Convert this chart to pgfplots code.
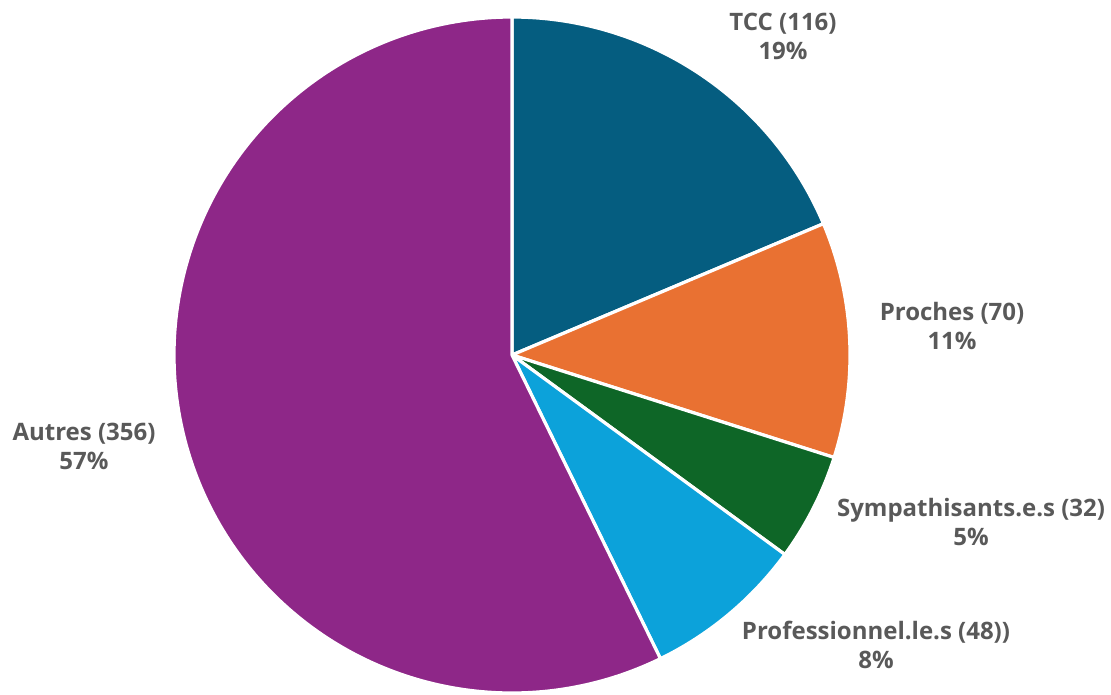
\documentclass[border=0pt]{standalone}
\usepackage{pgfplots}
\pgfplotsset{compat=1.18}
\usepackage{fontspec}
\setmainfont{Open Sans}
\definecolor{cTCC}{HTML}{055D80}
\definecolor{cPro}{HTML}{E97132}
\definecolor{cSym}{HTML}{0E6627}
\definecolor{cPrf}{HTML}{0CA2DA}
\definecolor{cAut}{HTML}{8E2788}
\definecolor{lab}{HTML}{595959}
\def\vA{116}\def\vB{70}\def\vC{32}\def\vD{48}\def\vE{356}
\pgfmathsetmacro\tot{\vA+\vB+\vC+\vD+\vE}
\pgfmathsetmacro\aA{90}
\pgfmathsetmacro\aB{\aA-360*(\vA/\tot)}
\pgfmathsetmacro\aC{\aB-360*(\vB/\tot)}
\pgfmathsetmacro\aD{\aC-360*(\vC/\tot)}
\pgfmathsetmacro\aE{\aD-360*(\vD/\tot)}
\pgfmathsetmacro\aF{\aE-360*(\vE/\tot)}
\begin{document}
\begin{tikzpicture}
\begin{axis}[
  width=555.5pt, height=347pt, scale only axis,
  xmin=0, xmax=1111, ymin=0, ymax=694,
  hide axis, clip=false,
  every axis plot/.append style={draw=white, line width=1.6pt, line join=round, samples=90, variable=\t},
]
\addplot[draw=none, forget plot, line width=0pt] coordinates {(0,0) (1111,694)};
\addplot[fill=cTCC, domain=\aB:\aA] ({512+338*cos(t)},{339+338*sin(t)}) -- (axis cs:512,339) -- cycle;
\addplot[fill=cPro, domain=\aC:\aB] ({512+338*cos(t)},{339+338*sin(t)}) -- (axis cs:512,339) -- cycle;
\addplot[fill=cSym, domain=\aD:\aC] ({512+338*cos(t)},{339+338*sin(t)}) -- (axis cs:512,339) -- cycle;
\addplot[fill=cPrf, domain=\aE:\aD] ({512+338*cos(t)},{339+338*sin(t)}) -- (axis cs:512,339) -- cycle;
\addplot[fill=cAut, domain=\aF:\aE, samples=200] ({512+338*cos(t)},{339+338*sin(t)}) -- (axis cs:512,339) -- cycle;
\tikzset{lbl/.style={font=\fontsize{12}{14.5}\selectfont\bfseries, text=lab, align=center, inner sep=0pt}}
\node[lbl] at (axis cs:783,658) {TCC (116)\\19\%};
\node[lbl] at (axis cs:952,368) {Proches (70)\\11\%};
\node[lbl] at (axis cs:971,172) {Sympathisants.e.s (32)\\5\%};
\node[lbl] at (axis cs:876,49) {Professionnel.le.s (48))\\8\%};
\node[lbl] at (axis cs:84,248) {Autres (356)\\57\%};
\end{axis}
\end{tikzpicture}
\end{document}
